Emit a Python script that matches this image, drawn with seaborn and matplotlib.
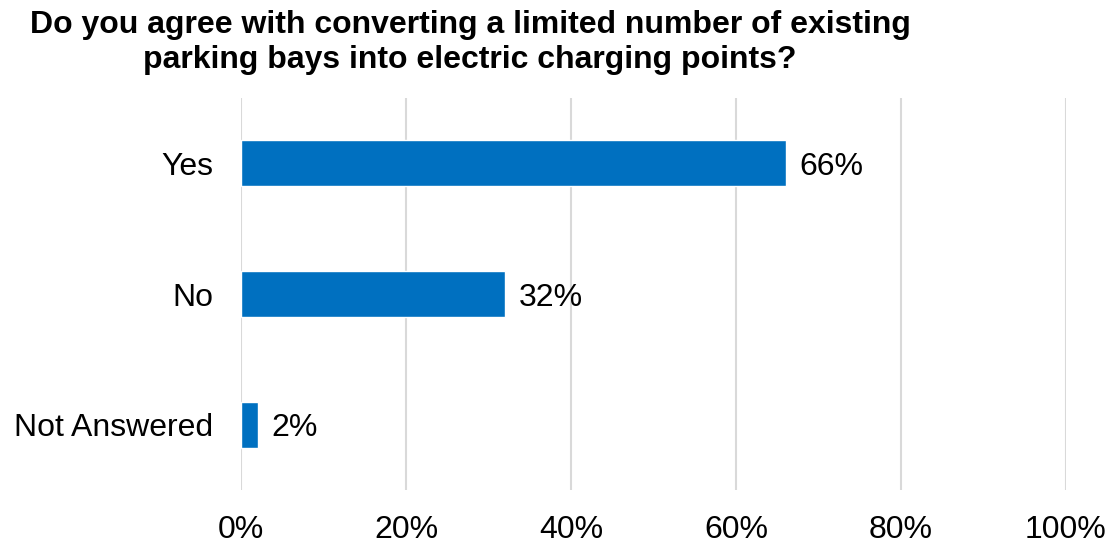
import matplotlib
matplotlib.use("Agg")
import matplotlib.pyplot as plt
import seaborn as sns
import pandas as pd
from matplotlib.ticker import FuncFormatter, MultipleLocator

# Survey responses
categories = ["Yes", "No", "Not Answered"]
percentages = [66, 32, 2]
title_lines = [
    "Do you agree with converting a limited number of existing",
    "parking bays into electric charging points?",
]

df = pd.DataFrame({"response": categories, "pct": percentages})

sns.set_theme(style="white")
plt.rcParams["font.family"] = ["Liberation Sans", "DejaVu Sans"]

fig = plt.figure(figsize=(11.09, 5.43), dpi=100)
ax = fig.add_axes([0.2176, 0.0976, 0.7436, 0.7219])

sns.barplot(data=df, x="pct", y="response", order=categories,
            color="#0070C0", saturation=1, width=0.35, ax=ax, zorder=3)

ax.set_xlim(0, 100)
ax.xaxis.set_major_locator(MultipleLocator(20))
ax.xaxis.set_major_formatter(FuncFormatter(lambda v, _: f"{v:.0f}%"))
ax.grid(axis="x", color="#d9d9d9", linewidth=1.5, zorder=0)
ax.grid(axis="y", visible=False)
for s in ax.spines.values():
    s.set_visible(False)
ax.set_xlabel("")
ax.set_ylabel("")
ax.tick_params(axis="x", labelsize=23, pad=18, length=0, colors="black")
ax.tick_params(axis="y", labelsize=23, pad=20, length=0, colors="black")

for i, v in enumerate(percentages):
    ax.text(v + 1.7, i, f"{v}%", va="center_baseline", ha="left",
            fontsize=23, color="black")

fig.text(0.424, 0.982, "\n".join(title_lines), ha="center", va="top",
         fontsize=23, fontweight="bold", linespacing=1.22, color="black")

fig.savefig("out.png", dpi=100, facecolor="white")
